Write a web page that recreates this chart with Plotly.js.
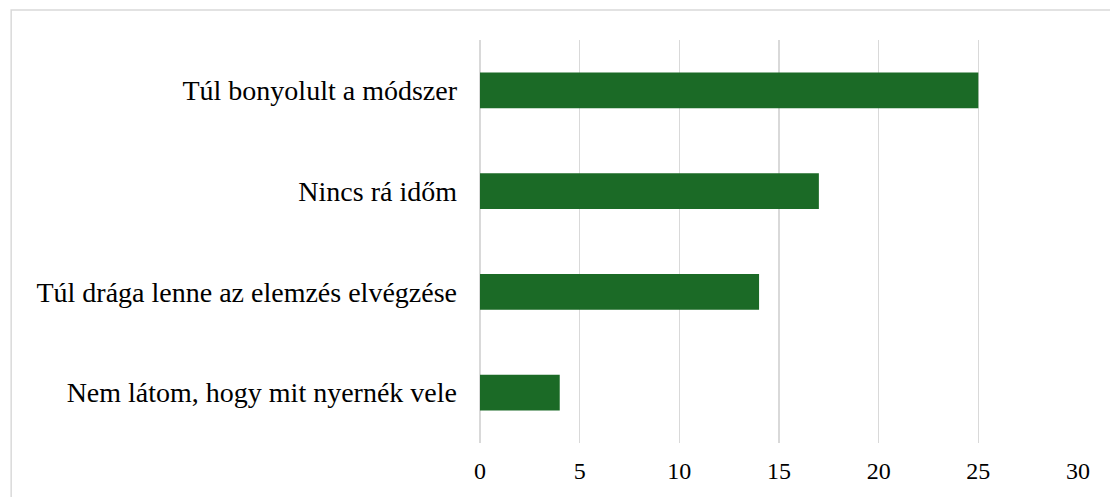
<!DOCTYPE html>
<html>
<head>
<meta charset="utf-8">
<script src="https://cdn.plot.ly/plotly-3.0.1.min.js"></script>
<style>html,body{margin:0;padding:0;background:#fff;}#chart{width:1110px;height:497px;}</style>
</head>
<body>
<div id="chart"></div>
<script>
const categories = [
  "Túl bonyolult a módszer",
  "Nincs rá időm",
  "Túl drága lenne az elemzés elvégzése",
  "Nem látom, hogy mit nyernék vele"
];
const values = [25, 17, 14, 4];
const tickValues = [0, 5, 10, 15, 20, 25, 30];

const trace = {
  type: 'bar',
  orientation: 'h',
  y: categories,
  x: values,
  marker: {color: '#1b6a26'},
  hoverinfo: 'x+y'
};

const layout = {
  width: 1110,
  height: 497,
  margin: {l: 480, r: 32, t: 40, b: 54, pad: 0},
  paper_bgcolor: '#ffffff',
  plot_bgcolor: '#ffffff',
  font: {family: 'Liberation Serif', color: '#000000'},
  bargap: 0.643,
  showlegend: false,
  xaxis: {
    range: [0, 30],
    tickvals: tickValues,
    ticktext: tickValues.map(String),
    showgrid: true,
    gridcolor: '#d9d9d9',
    gridwidth: 1.5,
    zeroline: true,
    zerolinecolor: '#d9d9d9',
    zerolinewidth: 1.5,
    showline: false,
    ticks: '',
    tickfont: {family: 'Liberation Serif', size: 24},
    ticklabelstandoff: 11,
    fixedrange: true
  },
  yaxis: {
    autorange: 'reversed',
    type: 'category',
    showgrid: false,
    zeroline: false,
    showline: false,
    ticks: '',
    tickfont: {family: 'Liberation Serif', size: 28},
    ticklabelstandoff: 22,
    fixedrange: true
  },
  shapes: [{
    type: 'rect',
    xref: 'paper', yref: 'paper',
    x0: -0.784, x1: 1.2, y0: -0.3, y1: 1.0744,
    line: {color: '#d9d9d9', width: 1.5},
    fillcolor: 'rgba(0,0,0,0)',
    layer: 'below'
  }]
};

Plotly.newPlot('chart', [trace], layout, {displayModeBar: false, staticPlot: true});
</script>
</body>
</html>
